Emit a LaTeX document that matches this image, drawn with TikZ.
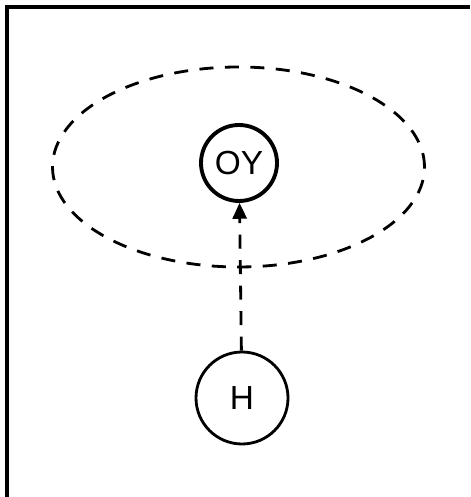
\documentclass[tikz,border=0pt]{standalone}
\usepackage{fontspec}
\setmainfont{Liberation Sans}
\usetikzlibrary{arrows.meta}
\tikzset{
  kreis/.style={draw, circle, inner sep=0pt, font=\fontsize{19}{21}\selectfont},
  strich/.style={dashed, dash pattern=on 8pt off 6.5pt, line width=1.6pt}
}
\begin{document}
\begin{tikzpicture}

\useasboundingbox (0,0) rectangle (9.4,9.94);

\draw[line width=1.8pt] (0.14,0) -- (0.14,9.8) -- (9.4,9.8);

\draw[strich] (4.77,6.6) ellipse (3.72 and 2.0);

\node[kreis, line width=2.2pt, minimum size=1.52cm] (oy) at (4.78,6.68) {OY};
\node[kreis, line width=1.6pt, minimum size=1.84cm] (h) at (4.84,1.98) {H};

\draw[strich, -{Triangle[length=9pt,width=8pt]}] (h) -- (oy);
\end{tikzpicture}
\end{document}
